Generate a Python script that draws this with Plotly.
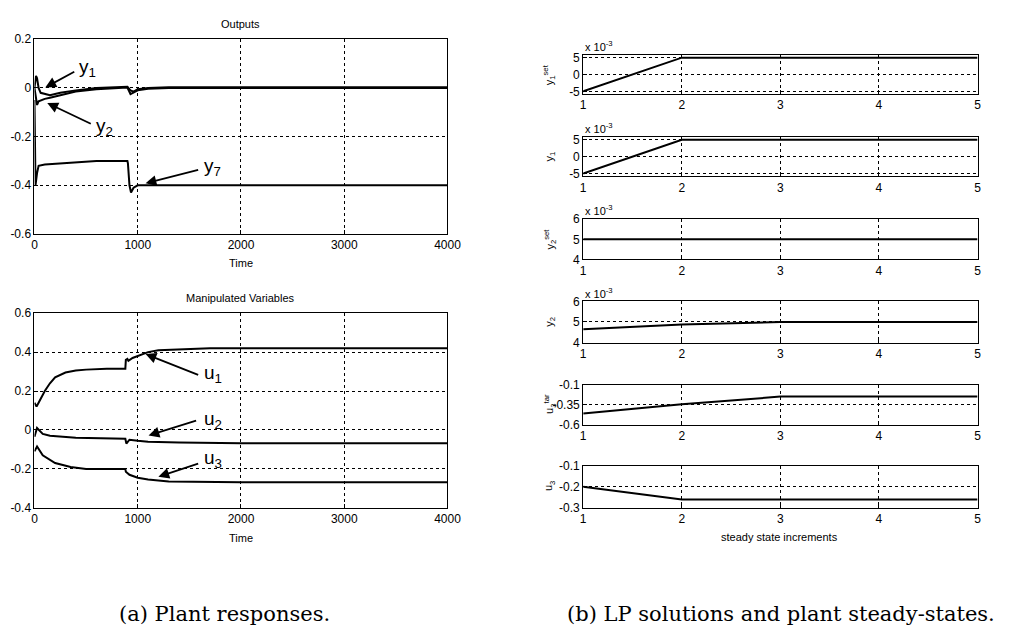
import plotly.graph_objects as go

# ---- Outputs (left, top) ----
t_y1 = [0, 15, 25, 40, 60, 100, 150, 250, 400, 600, 800, 900, 930, 960, 1000, 1100, 1300, 4000]
y1 = [0.0, 0.05, 0.04, 0.0, -0.02, -0.025, -0.03, -0.02, -0.01, 0.0, 0.005, 0.005, -0.01, -0.015, -0.005, 0.0, 0.003, 0.003]
t_y2 = [0, 10, 25, 40, 70, 100, 150, 250, 400, 600, 800, 900, 930, 960, 1000, 1100, 1300, 4000]
y2 = [0.0, -0.03, -0.07, -0.055, -0.05, -0.045, -0.04, -0.03, -0.015, -0.005, 0.0, 0.002, -0.025, -0.02, -0.01, -0.003, 0.0, 0.0]
t_y7 = [0, 10, 25, 40, 100, 300, 600, 900, 905, 920, 935, 960, 1000, 1100, 4000]
y7 = [-0.05, -0.40, -0.35, -0.32, -0.315, -0.31, -0.30, -0.30, -0.31, -0.40, -0.43, -0.41, -0.40, -0.40, -0.40]

# ---- Manipulated variables (left, bottom) ----
t_u1 = [0, 20, 40, 70, 100, 150, 200, 300, 400, 500, 700, 880, 885, 900, 910, 950, 1000, 1100, 1200, 1400, 1700, 2000, 4000]
u1 = [0.14, 0.12, 0.14, 0.17, 0.2, 0.24, 0.27, 0.295, 0.305, 0.31, 0.315, 0.315, 0.36, 0.365, 0.355, 0.37, 0.38, 0.40, 0.41, 0.415, 0.42, 0.42, 0.42]
t_u2 = [0, 25, 80, 150, 400, 880, 890, 920, 1000, 1100, 1400, 2000, 4000]
u2 = [-0.035, 0.01, -0.02, -0.03, -0.04, -0.045, -0.07, -0.05, -0.055, -0.06, -0.065, -0.068, -0.068]
t_u3 = [0, 25, 80, 200, 350, 500, 880, 885, 920, 1000, 1100, 1300, 2000, 4000]
u3 = [-0.11, -0.085, -0.13, -0.17, -0.19, -0.2, -0.2, -0.215, -0.23, -0.245, -0.255, -0.265, -0.268, -0.268]

# ---- LP solutions / plant steady states (right column) ----
steps = [1, 2, 3, 4, 5]
y1_set = [-0.005, 0.005, 0.005, 0.005, 0.005]
y1_ss = [-0.005, 0.005, 0.005, 0.005, 0.005]
y2_set = [0.005, 0.005, 0.005, 0.005, 0.005]
y2_ss = [0.00465, 0.00488, 0.005, 0.005, 0.005]
u3_tar = [-0.46, -0.345, -0.25, -0.25, -0.25]
u3_ss = [-0.2, -0.26, -0.26, -0.26, -0.26]

W, H = 1024, 642
FONT = "Liberation Sans, Arial, sans-serif"
SERIF = "DejaVu Serif, Liberation Serif, serif"


def fx(px):
    return px / W


def fy(py):
    return 1 - py / H


fig = go.Figure()
line = dict(color="black", width=2)


def axis_style(**kw):
    d = dict(showline=True, mirror=True, linecolor="black", linewidth=1,
             ticks="inside", ticklen=4, tickcolor="black",
             showgrid=True, gridcolor="black", griddash="dot", gridwidth=1,
             zeroline=False, tickfont=dict(family=FONT, size=12, color="black"))
    d.update(kw)
    return d


layout = {}
# left panels: (axis index, top px, bottom px, y range, tick values, tick labels)
left = [
    (1, 33, 232, [-0.6, 0.2], [-0.6, -0.4, -0.2, 0, 0.2], ["-0.6", "-0.4", "-0.2", "0", "0.2"]),
    (2, 313, 512, [-0.4, 0.6], [-0.4, -0.2, 0, 0.2, 0.4, 0.6], ["-0.4", "-0.2", "0", "0.2", "0.4", "0.6"]),
]
for i, top, bot, yr, tv, tt in left:
    s = "" if i == 1 else str(i)
    layout["xaxis" + s] = axis_style(domain=[fx(32), fx(452)], range=[0, 4000],
                                     tickvals=[0, 1000, 2000, 3000, 4000],
                                     anchor="y" + s)
    layout["yaxis" + s] = axis_style(domain=[fy(bot), fy(top)], range=yr,
                                     tickvals=tv, ticktext=tt, anchor="x" + s)

right = [
    (3, 49, 89, [-0.0058, 0.0058], [-0.005, 0, 0.005], ["-5", "0", "5"], y1_set),
    (4, 133, 173, [-0.0058, 0.0058], [-0.005, 0, 0.005], ["-5", "0", "5"], y1_ss),
    (5, 217, 258, [0.004, 0.006], [0.004, 0.005, 0.006], ["4", "5", "6"], y2_set),
    (6, 301, 343, [0.004, 0.006], [0.004, 0.005, 0.006], ["4", "5", "6"], y2_ss),
    (7, 386, 427, [-0.6, -0.1], [-0.6, -0.35, -0.1], ["-0.6", "-0.35", "-0.1"], u3_tar),
    (8, 469, 512, [-0.3, -0.1], [-0.3, -0.2, -0.1], ["-0.3", "-0.2", "-0.1"], u3_ss),
]
for i, top, bot, yr, tv, tt, vals in right:
    s = str(i)
    layout["xaxis" + s] = axis_style(domain=[fx(590), fx(991)], range=[1, 5],
                                     tickvals=[1, 2, 3, 4, 5], anchor="y" + s)
    layout["yaxis" + s] = axis_style(domain=[fy(bot), fy(top)], range=yr,
                                     tickvals=tv, ticktext=tt, anchor="x" + s)
    fig.add_trace(go.Scatter(x=steps, y=vals, mode="lines", line=line,
                             xaxis="x" + s, yaxis="y" + s))

for tt_, vv in [(t_y1, y1), (t_y2, y2), (t_y7, y7)]:
    fig.add_trace(go.Scatter(x=tt_, y=vv, mode="lines", line=line, xaxis="x", yaxis="y"))
for tt_, vv in [(t_u1, u1), (t_u2, u2), (t_u3, u3)]:
    fig.add_trace(go.Scatter(x=tt_, y=vv, mode="lines", line=line, xaxis="x2", yaxis="y2"))

ann = []


def text(px, py, s, size=11, family=FONT, angle=0, xanchor="center"):
    ann.append(dict(x=fx(px), y=fy(py), xref="paper", yref="paper", text=s,
                    showarrow=False, textangle=angle, xanchor=xanchor, yanchor="middle",
                    font=dict(family=family, size=size, color="black")))


def arrow(xr, yr, tail, tip, label, lpos):
    ann.append(dict(x=tip[0], y=tip[1], ax=tail[0], ay=tail[1], xref=xr, yref=yr,
                    axref=xr, ayref=yr, text="", showarrow=True, arrowhead=2,
                    arrowsize=1.2, arrowwidth=1.8, arrowcolor="black"))
    ann.append(dict(x=lpos[0], y=lpos[1], xref=xr, yref=yr, text=label, showarrow=False,
                    xanchor="left", yanchor="middle",
                    font=dict(family=FONT, size=19, color="black")))


arrow("x", "y", (400, 0.07), (105, 0.002), "y<sub>1</sub>", (410, 0.08))
arrow("x", "y", (560, -0.15), (124, -0.062), "y<sub>2</sub>", (580, -0.16))
arrow("x", "y", (1600, -0.335), (1076, -0.392), "y<sub>7</sub>", (1620, -0.325))
arrow("x2", "y2", (1600, 0.28), (1076, 0.39), "u<sub>1</sub>", (1620, 0.29))
arrow("x2", "y2", (1580, 0.05), (1105, -0.028), "u<sub>2</sub>", (1620, 0.05))
arrow("x2", "y2", (1600, -0.17), (1200, -0.24), "u<sub>3</sub>", (1620, -0.15))

text(242, 17, "Outputs", 11)
text(242, 262, "Time", 11)
text(242, 297, "Manipulated Variables", 11)
text(242, 543, "Time", 11)
text(790, 542, "steady state increments", 11)

for top in [49, 133, 217, 301]:
    text(590, top - 9, "x 10<sup>-3</sup>", 11, xanchor="left")

ylabels = [(69, "y<sub>1</sub><sup>set</sup>"), (153, "y<sub>1</sub>"),
           (237, "y<sub>2</sub><sup>set</sup>"), (322, "y<sub>2</sub>"),
           (406, "u<sub>3</sub><sup>tar</sup>"), (490, "u<sub>3</sub>")]
for py, s in ylabels:
    text(556, py, s, 11, angle=-90)

text(225, 621, "(a) Plant responses.", 21, family=SERIF)
text(791, 621, "(b) LP solutions and plant steady-states.", 21, family=SERIF)

fig.update_layout(width=W, height=H, margin=dict(l=0, r=0, t=0, b=0),
                  paper_bgcolor="white", plot_bgcolor="white",
                  showlegend=False, annotations=ann, **layout)

fig.write_html("out.html")
